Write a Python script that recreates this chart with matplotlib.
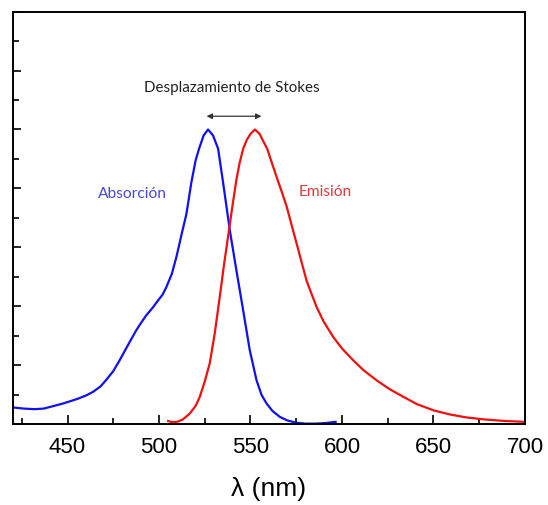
import matplotlib
matplotlib.use("Agg")
import matplotlib.pyplot as plt
from matplotlib.ticker import MultipleLocator

# absorption spectrum (wavelength nm, normalised intensity)
wl_abs = [420, 426, 432, 437, 442, 448, 455, 460, 464, 468, 471, 475, 478.5,
          483, 487.6, 490, 493, 496.5, 499.5, 502, 504, 507, 509.5, 512, 515,
          517.7, 520, 521.9, 524.4, 526.8, 529.5, 532.3, 535, 538.7, 542.3,
          546, 549.6, 553.3, 556, 558.8, 562, 566, 570, 575, 580, 586, 591, 596.5]
abs_val = [0.057, 0.053, 0.051, 0.053, 0.061, 0.071, 0.085, 0.097, 0.110,
           0.128, 0.149, 0.180, 0.217, 0.268, 0.319, 0.342, 0.369, 0.395,
           0.420, 0.440, 0.465, 0.510, 0.567, 0.635, 0.714, 0.821, 0.895,
           0.935, 0.980, 1.0, 0.980, 0.935, 0.821, 0.658, 0.522, 0.386,
           0.251, 0.149, 0.100, 0.070, 0.045, 0.025, 0.013, 0.005, 0.002,
           0.002, 0.004, 0.008]

# emission spectrum
wl_em = [505, 507, 510, 513, 516.8, 520, 522.3, 525, 527.7, 530.5, 533.2,
         535.5, 537.7, 540, 542.3, 544, 546, 548, 550, 552.4, 555, 557,
         559.1, 561.5, 564.2, 567, 569.7, 572.5, 575.2, 578, 580.6, 583.5,
         586.1, 590, 595.2, 600, 606.1, 612, 618.9, 626, 633.5, 641, 650,
         659, 668, 678, 689, 700]
em_val = [0.011, 0.007, 0.008, 0.016, 0.036, 0.062, 0.093, 0.145, 0.206,
          0.310, 0.432, 0.540, 0.635, 0.735, 0.830, 0.885, 0.935, 0.965,
          0.985, 1.0, 0.985, 0.960, 0.935, 0.890, 0.840, 0.790, 0.740, 0.675,
          0.613, 0.548, 0.488, 0.440, 0.398, 0.348, 0.296, 0.257, 0.217,
          0.182, 0.149, 0.119, 0.093, 0.068, 0.047, 0.033, 0.023, 0.016,
          0.011, 0.008]

shift_start, shift_end = 526, 556

fig = plt.figure(figsize=(5.48, 5.05), dpi=100)
ax = fig.add_axes([0.023, 0.160, 0.935, 0.817])

ax.plot(wl_abs, abs_val, color="#1010f0", lw=1.6, solid_joinstyle="round")
ax.plot(wl_em, em_val, color="#f01010", lw=1.6, solid_joinstyle="round")

ax.set_xlim(420, 700)
ax.set_ylim(0, 1.4)

ax.xaxis.set_major_locator(MultipleLocator(50))
ax.xaxis.set_minor_locator(MultipleLocator(25))
ax.yaxis.set_major_locator(MultipleLocator(0.2))
ax.yaxis.set_minor_locator(MultipleLocator(0.1))
ax.tick_params(which="both", direction="in", width=1.2)
ax.tick_params(which="major", length=6.5)
ax.tick_params(which="minor", length=4)
ax.tick_params(axis="y", which="major", length=5.5)
ax.tick_params(axis="y", which="minor", length=4)
ax.tick_params(axis="y", labelleft=False)
ax.tick_params(axis="x", labelsize=16, pad=9)
for lab in ax.get_xticklabels():
    lab.set_family("Liberation Sans")
for s in ax.spines.values():
    s.set_linewidth(1.4)

ax.set_xlabel("λ (nm)", fontsize=19, family="Liberation Sans", labelpad=14)

ax.annotate("", xy=(shift_end, 1.045), xytext=(shift_start, 1.045),
            arrowprops=dict(arrowstyle="<|-|>", color="#333333", lw=0.9,
                            mutation_scale=8, shrinkA=0, shrinkB=0))
ax.text(540, 1.14, "Desplazamiento de Stokes", ha="center", va="center",
        fontsize=10.9, family="Lato", color="#222222")
ax.text(485.3, 0.782, "Absorción", ha="center", va="center",
        fontsize=11.2, family="Lato", color="#4848d8")
ax.text(590.9, 0.787, "Emisión", ha="center", va="center",
        fontsize=11.2, family="Lato", color="#e03a40")

fig.savefig("out.png", dpi=100)
